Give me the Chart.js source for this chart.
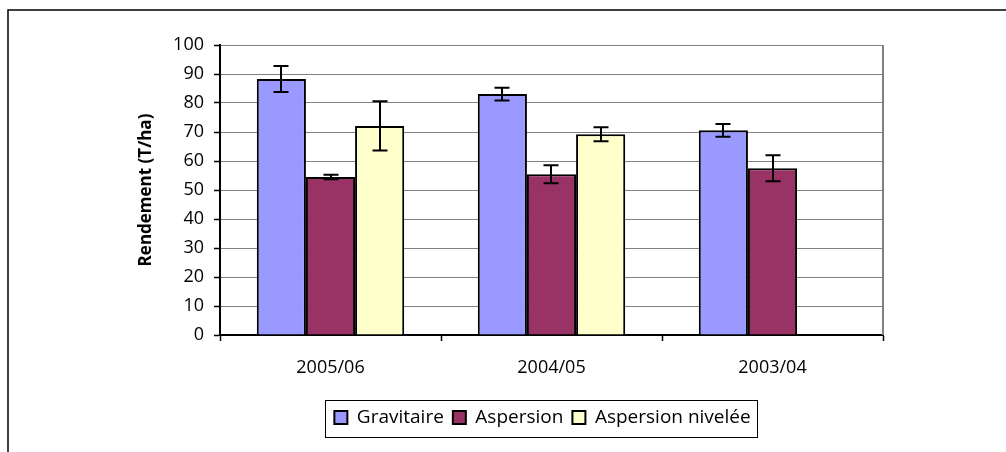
<!DOCTYPE html>
<html>
<head>
<meta charset="utf-8">
<script src="https://cdn.jsdelivr.net/npm/chart.js@4.4.1/dist/chart.umd.min.js"></script>
<style>
html,body{margin:0;padding:0;background:#fff;}
canvas{display:block;}
</style>
</head>
<body>
<canvas id="c" width="1006" height="452"></canvas>
<script>
const categories = ['2005/06', '2004/05', '2003/04'];
const gravitaire = [88.3, 83.1, 70.6];
const aspersion = [54.5, 55.4, 57.5];
const aspersionNivelee = [72.1, 69.2, null];
const errGravitaire = [4.5, 2.2, 2.2];
const errAspersion = [0.8, 3.1, 4.5];
const errNivelee = [8.5, 2.4, null];
const yTicks = [0, 10, 20, 30, 40, 50, 60, 70, 80, 90, 100];
const seriesNames = ['Gravitaire', 'Aspersion', 'Aspersion nivelée'];

const FONT = "'Open Sans', 'DejaVu Sans', sans-serif";

const errorBars = {
  id: 'errorBars',
  afterDatasetsDraw(chart) {
    const ctx = chart.ctx;
    const y = chart.scales.y;
    ctx.save();
    ctx.strokeStyle = '#000';
    ctx.lineWidth = 2;
    chart.data.datasets.forEach((ds, i) => {
      const meta = chart.getDatasetMeta(i);
      meta.data.forEach((bar, j) => {
        const v = ds.data[j], e = ds.errors[j];
        if (v == null || e == null) return;
        const x = Math.round(bar.x);
        const yt = y.getPixelForValue(v + e);
        const yb = y.getPixelForValue(v - e);
        ctx.beginPath();
        ctx.moveTo(x, yt); ctx.lineTo(x, yb);
        ctx.moveTo(x - 7.5, yt); ctx.lineTo(x + 7.5, yt);
        ctx.moveTo(x - 7.5, yb); ctx.lineTo(x + 7.5, yb);
        ctx.stroke();
      });
    });
    ctx.restore();
  }
};

const LEGEND_SHIFT = 33;
const frame = {
  id: 'frame',
  afterLayout(chart) {
    const lg = chart.legend;
    if (lg) {
      lg.left += LEGEND_SHIFT; lg.right += LEGEND_SHIFT;
      (lg.legendHitBoxes || []).forEach(h => { h.left += LEGEND_SHIFT; });
    }
  },
  beforeDraw(chart) {
    const ctx = chart.ctx;
    ctx.save();
    ctx.fillStyle = '#fff';
    ctx.fillRect(0, 0, chart.width, chart.height);
    ctx.restore();
  },
  afterDraw(chart) {
    const ctx = chart.ctx;
    const a = chart.chartArea;
    ctx.save();
    ctx.strokeStyle = '#000';
    ctx.lineWidth = 1.5;
    ctx.beginPath();
    ctx.moveTo(8, 452); ctx.lineTo(8, 10); ctx.lineTo(1006, 10);
    ctx.stroke();
    ctx.strokeStyle = '#808080';
    ctx.lineWidth = 2;
    ctx.beginPath();
    ctx.moveTo(a.right, a.top); ctx.lineTo(a.right, a.bottom);
    ctx.stroke();
    const lg = chart.legend;
    if (lg && lg.legendHitBoxes && lg.legendHitBoxes.length) {
      const hb = lg.legendHitBoxes;
      let l = Infinity, r = -Infinity;
      hb.forEach(h => { l = Math.min(l, h.left); r = Math.max(r, h.left + h.width); });
      ctx.strokeStyle = '#000';
      ctx.lineWidth = 1;
      ctx.strokeRect(Math.round(l - 9) + 0.5, 400.5, Math.round(r - l + 16), 37);
    }
    ctx.restore();
  }
};

new Chart(document.getElementById('c'), {
  type: 'bar',
  data: {
    labels: categories,
    datasets: [
      { label: seriesNames[0], data: gravitaire, errors: errGravitaire, backgroundColor: '#9999FF', borderColor: '#000', borderWidth: 2 },
      { label: seriesNames[1], data: aspersion, errors: errAspersion, backgroundColor: '#993366', borderColor: '#000', borderWidth: 2 },
      { label: seriesNames[2], data: aspersionNivelee, errors: errNivelee, backgroundColor: '#FFFFCC', borderColor: '#000', borderWidth: 2 }
    ]
  },
  options: {
    responsive: false,
    animation: false,
    devicePixelRatio: 1,
    categoryPercentage: 0.667,
    barPercentage: 1,
    layout: { padding: { top: 45, left: 136, right: 123, bottom: 15 } },
    plugins: {
      tooltip: { enabled: false },
      legend: {
        position: 'bottom',
        labels: {
          font: { family: FONT, size: 19 },
          color: '#000',
          boxWidth: 13,
          boxHeight: 13,
          padding: 9,
          generateLabels(chart) {
            return chart.data.datasets.map((ds, i) => ({
              text: ds.label, fillStyle: ds.backgroundColor, strokeStyle: '#000', lineWidth: 2, datasetIndex: i, fontColor: '#000'
            }));
          }
        }
      }
    },
    scales: {
      x: {
        grid: { offset: true, drawOnChartArea: false, tickLength: 6, tickColor: '#000', tickWidth: 1.5 },
        border: { color: '#000', width: 2 },
        ticks: { font: { family: FONT, size: 18 }, color: '#000', padding: 16, maxRotation: 0 },
        afterFit(s) { s.height = 64; }
      },
      y: {
        min: 0, max: 100,
        afterBuildTicks(s) { s.ticks = yTicks.map(v => ({ value: v })); },
        grid: { color: '#808080', lineWidth: 1, tickLength: 6, tickColor: '#000', tickWidth: 1.5 },
        border: { color: '#000', width: 2 },
        ticks: { font: { family: FONT, size: 18 }, color: '#000', padding: 10 },
        title: { display: true, text: 'Rendement (T/ha)', font: { family: FONT, size: 17, weight: 'bold' }, color: '#000', padding: 0 },
        afterFit(s) { s.width = 84; }
      }
    }
  },
  plugins: [errorBars, frame]
});
</script>
</body>
</html>
